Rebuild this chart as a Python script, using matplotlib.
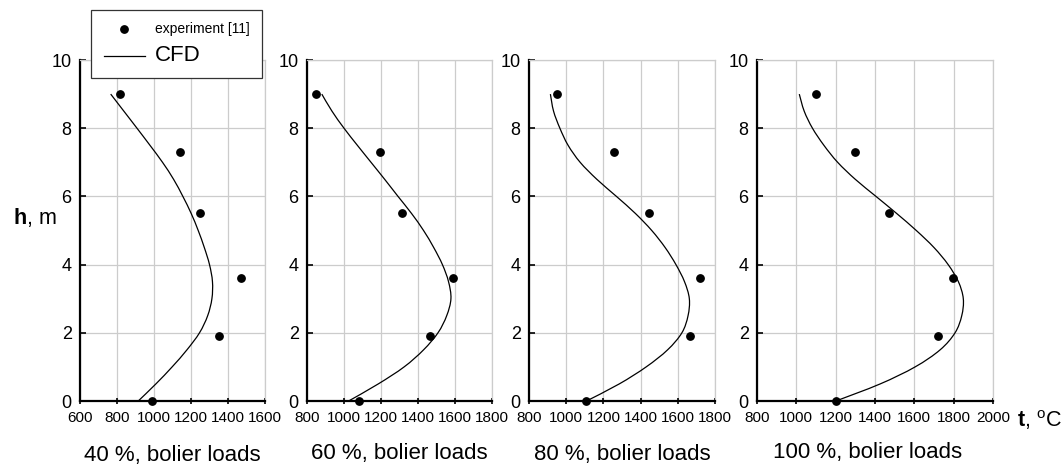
import numpy as np
import matplotlib
matplotlib.use("Agg")
import matplotlib.pyplot as plt
from matplotlib.path import Path
from matplotlib.patches import PathPatch

plt.rcParams['font.family'] = ['Liberation Sans', 'DejaVu Sans']
plt.rcParams['mathtext.fontset'] = 'custom'
plt.rcParams['mathtext.rm'] = 'Liberation Sans'
plt.rcParams['mathtext.bf'] = 'Liberation Sans:bold'

# experiment [11]: temperature (C) at heights (m)
h_exp = [9.0, 7.3, 5.5, 3.6, 1.9, 0.0]
t_exp_40 = [815, 1140, 1250, 1470, 1350, 990]
t_exp_60 = [850, 1195, 1313, 1590, 1463, 1081]
t_exp_80 = [948, 1258, 1447, 1720, 1666, 1109]
t_exp_100 = [1100, 1299, 1473, 1799, 1722, 1201]

# CFD curves
h_cfd = [0.0, 0.5, 1.0, 1.5, 2.0, 2.5, 3.0, 3.5, 4.0, 4.5,
         5.0, 5.5, 6.0, 6.5, 7.0, 7.5, 8.0, 8.5, 9.0]
t_cfd_40 = [915, 1010, 1098, 1178, 1246, 1290, 1313, 1316, 1300, 1272,
            1239, 1201, 1156, 1106, 1046, 978, 908, 837, 766]
t_cfd_60 = [1025, 1185, 1325, 1430, 1508, 1555, 1578, 1565, 1532, 1485,
            1430, 1365, 1292, 1220, 1146, 1072, 1000, 935, 880]
t_cfd_80 = [1109, 1285, 1430, 1545, 1622, 1655, 1662, 1636, 1590, 1532,
            1460, 1372, 1270, 1165, 1075, 1010, 966, 932, 915]
t_cfd_100 = [1201, 1426, 1604, 1731, 1807, 1841, 1849, 1824, 1772, 1700,
             1610, 1510, 1405, 1300, 1210, 1140, 1082, 1040, 1015]

titles = ['40 %, bolier loads', '60 %, bolier loads',
          '80 %, bolier loads', '100 %, bolier loads']
xlims = [(600, 1600), (800, 1800), (800, 1800), (800, 2000)]
exp_all = [t_exp_40, t_exp_60, t_exp_80, t_exp_100]
cfd_all = [t_cfd_40, t_cfd_60, t_cfd_80, t_cfd_100]


def smooth_line(ax, xs, ys):
    # smoothed line like a spreadsheet chart (Catmull-Rom as Bezier)
    P = np.column_stack([xs, ys]).astype(float)
    n = len(P)
    verts = [P[0]]
    codes = [Path.MOVETO]
    for i in range(n - 1):
        p0 = P[i - 1] if i > 0 else P[i]
        p1 = P[i]
        p2 = P[i + 1]
        p3 = P[i + 2] if i + 2 < n else P[i + 1]
        verts += [p1 + (p2 - p0) / 6, p2 - (p3 - p1) / 6, p2]
        codes += [Path.CURVE4] * 3
    ax.add_patch(PathPatch(Path(verts, codes), fill=False,
                           edgecolor='black', lw=0.9))


W, H = 1064, 465
fig = plt.figure(figsize=(W / 100, H / 100), dpi=100)

# axes boxes in pixels: left, right
boxes = [(80, 265), (307, 492), (529, 715), (757, 993)]
top_px, bot_px = 60, 401
title_base = [461, 459, 460, 458]

axes = []
for i in range(4):
    l, r = boxes[i]
    ax = fig.add_axes([l / W, 1 - bot_px / H, (r - l) / W, (bot_px - top_px) / H])
    axes.append(ax)
    smooth_line(ax, cfd_all[i], h_cfd)
    ax.plot([], [], color='black', lw=0.9, label='CFD')
    ax.plot(exp_all[i], h_exp, 'o', color='black', ms=5.3,
            label='experiment [11]', clip_on=False, zorder=5)
    ax.set_xlim(*xlims[i])
    ax.set_ylim(0, 10)
    ax.set_xticks(np.arange(xlims[i][0], xlims[i][1] + 1, 200))
    ax.set_yticks(np.arange(0, 11, 2))
    ax.grid(True, color='#cccccc', lw=0.9)
    ax.set_axisbelow(True)
    for s in ['top', 'right']:
        ax.spines[s].set_color('#cccccc')
        ax.spines[s].set_linewidth(0.9)
    for s in ['left', 'bottom']:
        ax.spines[s].set_linewidth(1.6)
    ax.tick_params(axis='x', direction='inout', length=5, width=1.2,
                   labelsize=11, pad=5)
    ax.tick_params(axis='y', direction='in', length=4, width=1.2,
                   labelsize=13, pad=6)
    cx = (l + r) / 2
    if i == 3:
        cx = 868
    fig.text(cx / W, 1 - title_base[i] / H, titles[i], fontsize=16,
             ha='center', va='baseline')

fig.text(13 / W, 1 - 217 / H, r'$\mathbf{h}$, m', fontsize=15.5,
         ha='left', va='center')
fig.text(1017 / W, 1 - 420 / H, r'$\mathbf{t}$, $^{\mathrm{o}}$C',
         fontsize=15.5, ha='left', va='center')

handles, labels = axes[0].get_legend_handles_labels()
leg = fig.legend(handles[::-1], labels[::-1], loc='upper left',
                 bbox_to_anchor=(91 / W, 1 - 10 / H), borderaxespad=0,
                 fancybox=False, edgecolor='#333333', framealpha=1,
                 borderpad=0.9, handlelength=3.0, handletextpad=0.7,
                 labelspacing=0.6, fontsize=10)
leg.get_frame().set_linewidth(0.9)
leg.get_texts()[1].set_fontsize(16)

fig.savefig('out.png', dpi=100)
